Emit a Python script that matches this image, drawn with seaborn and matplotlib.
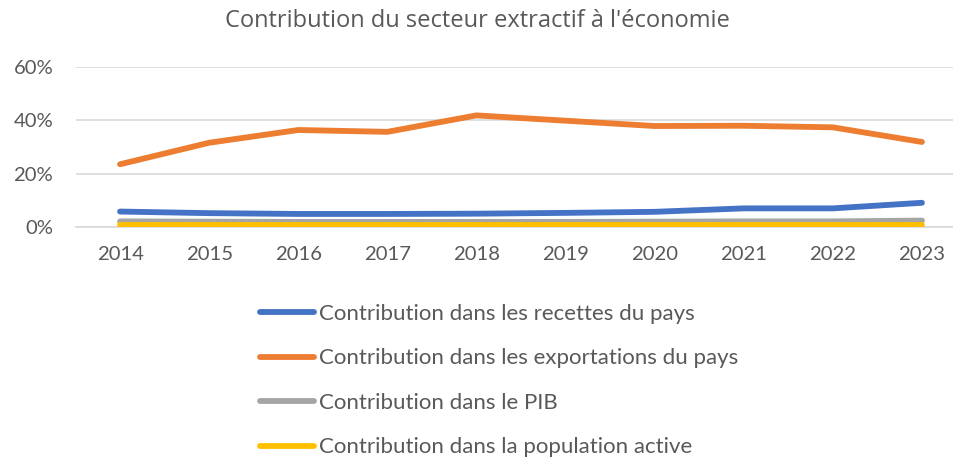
import matplotlib
matplotlib.use("Agg")
import matplotlib.pyplot as plt
import seaborn as sns
import pandas as pd
from matplotlib.ticker import PercentFormatter

years = ["2014", "2015", "2016", "2017", "2018", "2019", "2020", "2021", "2022", "2023"]
recettes = [5.7, 5.1, 4.8, 4.8, 4.9, 5.2, 5.6, 6.9, 6.9, 9.0]
exportations = [23.5, 31.6, 36.4, 35.7, 41.9, 39.9, 37.9, 38.0, 37.4, 31.9]
pib = [2.0, 1.9, 1.8, 1.8, 1.8, 1.8, 1.9, 2.0, 2.0, 2.3]
population = [0.5, 0.5, 0.5, 0.5, 0.5, 0.5, 0.5, 0.5, 0.5, 0.5]

series_names = [
    "Contribution dans les recettes du pays",
    "Contribution dans les exportations du pays",
    "Contribution dans le PIB",
    "Contribution dans la population active",
]
colors = ["#4472C4", "#ED7D31", "#A5A5A5", "#FFC000"]

rows = []
for name, vals in zip(series_names, [recettes, exportations, pib, population]):
    for i, (y, v) in enumerate(zip(years, vals)):
        rows.append({"idx": i, "year": y, "value": v / 100.0, "serie": name})
df = pd.DataFrame(rows)

sns.set_theme(style="white")
plt.rcParams["font.family"] = ["Lato", "DejaVu Sans"]

fig = plt.figure(figsize=(9.54, 4.59), dpi=100)
ax = fig.add_axes([75.5 / 954, 1 - 226.7 / 459, (966.5 - 75.5) / 954, (226.7 - 67.3) / 459])

sns.lineplot(data=df, x="idx", y="value", hue="serie", hue_order=series_names,
             palette=colors, linewidth=4.2, ax=ax, legend=False,
             solid_capstyle="round", zorder=3)

ax.set_xlim(-0.5, len(years) - 0.5)
ax.set_ylim(0, 0.6)
ax.set_yticks([0, 0.2, 0.4, 0.6])
ax.yaxis.set_major_formatter(PercentFormatter(1.0, decimals=0))
ax.set_xticks(range(len(years)))
ax.set_xticklabels(years)
ax.set_xlabel("")
ax.set_ylabel("")
ax.grid(axis="y", color="#D9D9D9", linewidth=1.2, zorder=0)
for s in ["top", "right", "left"]:
    ax.spines[s].set_visible(False)
ax.spines["bottom"].set_color("#D9D9D9")
ax.spines["bottom"].set_linewidth(1.2)
ax.tick_params(axis="both", length=0, labelsize=14.6, colors="#595959")
ax.tick_params(axis="y", pad=16)
ax.tick_params(axis="x", pad=14)

fig.text(0.5, 1 - 21 / 459, "Contribution du secteur extractif à l'économie",
         ha="center", va="center", fontsize=17, color="#595959",
         family=["Open Sans", "DejaVu Sans"])

handles = [plt.Line2D([0], [0], color=c, linewidth=4.2, solid_capstyle="round") for c in colors]
leg = fig.legend(handles, series_names, loc="upper left",
                 bbox_to_anchor=(260 / 954, 1 - 304 / 459), frameon=False,
                 fontsize=16, handlelength=2.45, handletextpad=0.2,
                 labelspacing=1.1, borderaxespad=0, borderpad=0)
for t in leg.get_texts():
    t.set_color("#595959")

fig.savefig("out.png", dpi=100)
